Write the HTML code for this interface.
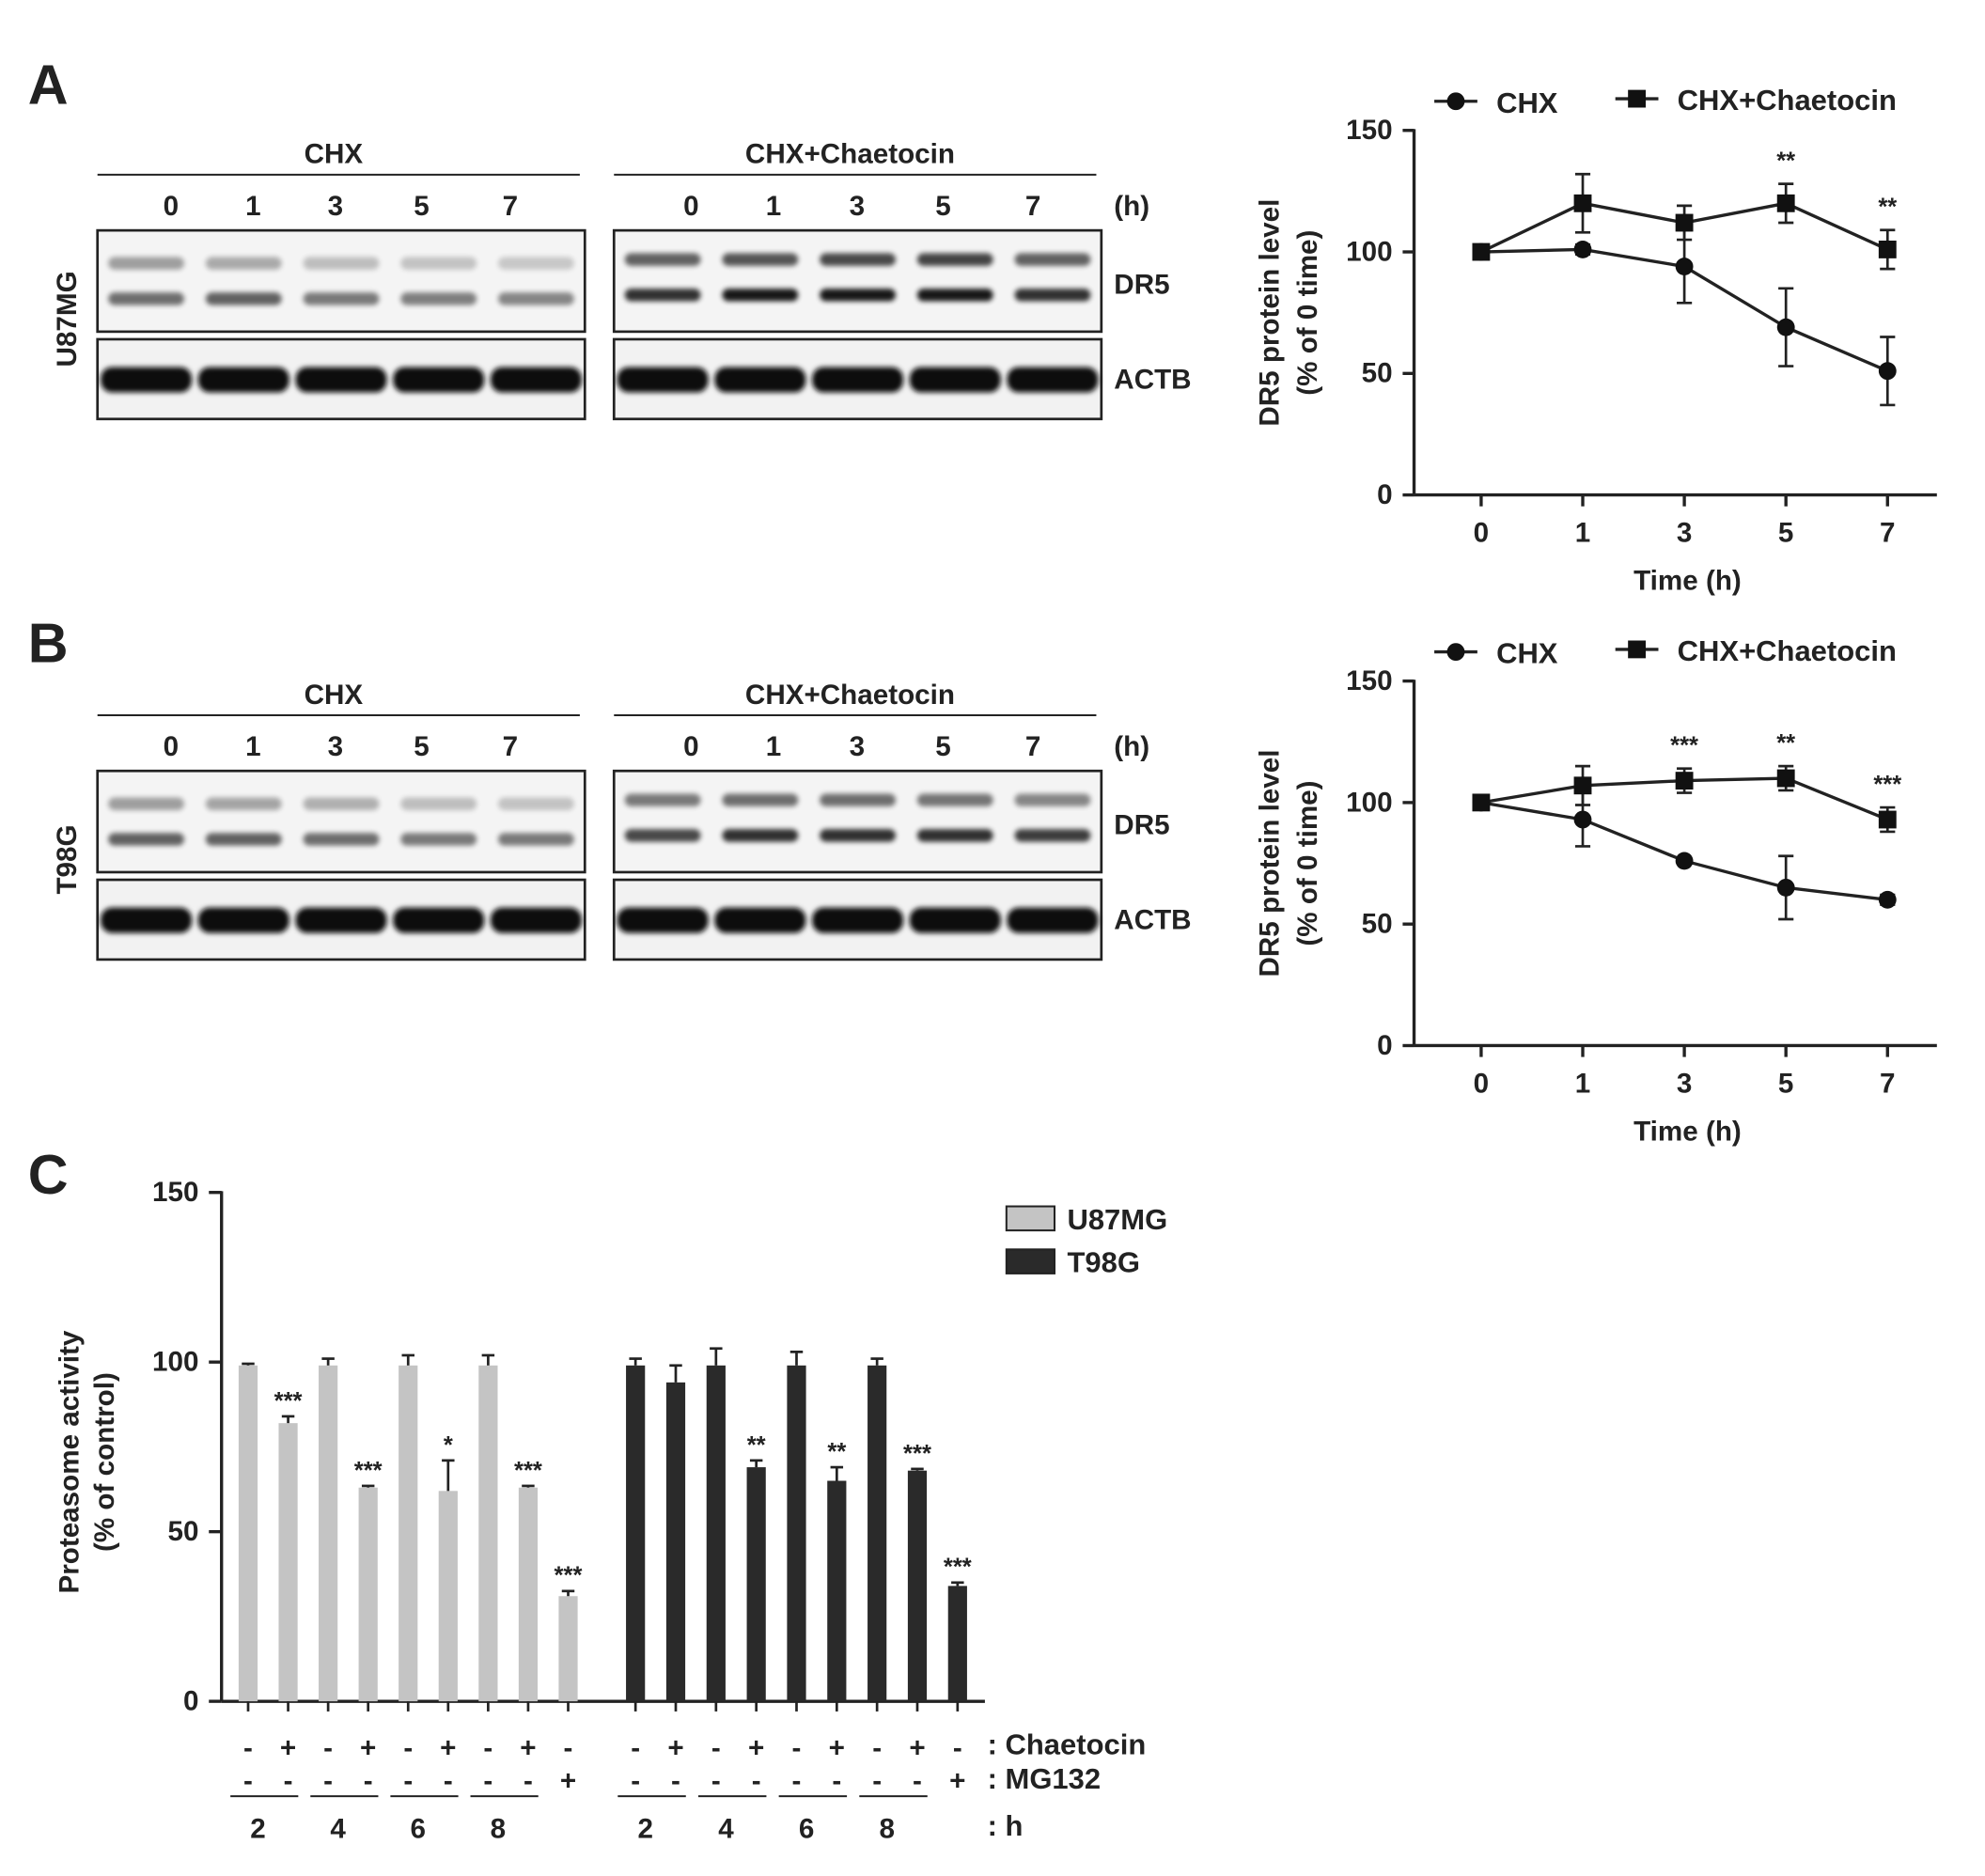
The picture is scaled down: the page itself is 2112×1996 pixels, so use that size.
<!DOCTYPE html>
<html><head><meta charset="utf-8"><style>
html,body{margin:0;padding:0;background:#fff}
svg{display:block}
text{font-family:"Liberation Sans",Arial,sans-serif;font-weight:bold;fill:#222}
</style></head><body>
<svg id="fig" xmlns="http://www.w3.org/2000/svg" width="2112" height="1996" viewBox="0 0 1568 1482" preserveAspectRatio="none">
<defs><filter id="blur" x="-20%" y="-50%" width="140%" height="200%"><feGaussianBlur stdDeviation="2"/></filter></defs>
<g id="root"></g>
</svg>
<script>
// ---- Data ----
const timeCats = [0, 1, 3, 5, 7];
const aChx = [100, 101, 94, 69, 51];
const aChxErr = [0, 2, 15, 16, 14];
const aChae = [100, 120, 112, 120, 101];
const aChaeErr = [0, 12, 7, 8, 8];
const aStars = ["", "", "", "**", "**"];
const bChx = [100, 93, 76, 65, 60];
const bChxErr = [0, 11, 1, 13, 2];
const bChae = [100, 107, 109, 110, 93];
const bChaeErr = [0, 8, 5, 5, 5];
const bStars = ["", "", "***", "**", "***"];
const yTicks = [0, 50, 100, 150];
const cU87 = [99, 82, 99, 63, 99, 62, 99, 63, 31];
const cU87Err = [0.5, 2, 2, 0.5, 3, 9, 3, 0.5, 1.5];
const cU87Stars = ["", "***", "", "***", "", "*", "", "***", "***"];
const cT98 = [99, 94, 99, 69, 99, 65, 99, 68, 34];
const cT98Err = [2, 5, 5, 2, 4, 4, 2, 0.5, 1];
const cT98Stars = ["", "", "", "**", "", "**", "", "***", "***"];
const chaeSigns = ["-", "+", "-", "+", "-", "+", "-", "+", "-"];
const mgSigns = ["-", "-", "-", "-", "-", "-", "-", "-", "+"];
const hourLabels = ["2", "4", "6", "8"];

const NS = "http://www.w3.org/2000/svg";
const root = document.getElementById("root");
function el(tag, attrs, parent, txt) {
  const e = document.createElementNS(NS, tag);
  for (const k in attrs) e.setAttribute(k, attrs[k]);
  if (txt !== undefined) e.textContent = txt;
  (parent || root).appendChild(e);
  return e;
}
function line(x1, y1, x2, y2, w, p) { return el("line", {x1, y1, x2, y2, stroke: "#222", "stroke-width": w || 2}, p); }

[["A", 38, 82], ["B", 38, 523], ["C", 38, 943]].forEach(([t, x, y]) => {
  const e = el("text", {x, y, "font-size": 44, "text-anchor": "middle"}, root, t);
  
  
});

// ---- Blots ----
function blots(dy, cell, dr5Int) {
  const g = el("g", {transform: "translate(0," + dy + ")"});
  
  
  const groups = [{x0: 77, x1: 462, title: "CHX", lanes: [135, 200, 265, 333, 403]},
                  {x0: 485, x1: 870, title: "CHX+Chaetocin", lanes: [546, 611, 677, 745, 816]}];
  groups.forEach((gr, gi) => {
    el("text", {x: (gr.x0 + gr.x1) / 2 - 6, y: 129, "font-size": 22, "text-anchor": "middle"}, g, gr.title);
    line(gr.x0, 138, gr.x1 - 4, 138, 1.5, g);
    gr.lanes.forEach((lx, i) => el("text", {x: lx, y: 170, "font-size": 22, "text-anchor": "middle"}, g, timeCats[i]));
    el("rect", {x: gr.x0, y: 182, width: gr.x1 - gr.x0, height: 80, fill: "#f4f4f4", stroke: "#222", "stroke-width": 2}, g);
    el("rect", {x: gr.x0, y: 268, width: gr.x1 - gr.x0, height: 63, fill: "#f2f2f2", stroke: "#222", "stroke-width": 2}, g);
    const step = (gr.x1 - gr.x0) / 5;
    for (let i = 0; i < 5; i++) {
      const cx = gr.x0 + step * (i + 0.5);
      const ints = dr5Int[gi][i];
      el("rect", {x: cx - 30, y: 203 - (gi ? 3 : 0), width: 60, height: 10, rx: 5, fill: "#000", opacity: ints[0], filter: "url(#blur)"}, g);
      el("rect", {x: cx - 30, y: 231 - (gi ? 3 : 0), width: 60, height: 10, rx: 5, fill: "#000", opacity: ints[1], filter: "url(#blur)"}, g);
      el("rect", {x: cx - 36, y: 290, width: 72, height: 20, rx: 9, fill: "#111", filter: "url(#blur)"}, g);
    }
  });
  el("text", {x: 880, y: 170, "font-size": 22}, g, "(h)");
  el("text", {x: 880, y: 232, "font-size": 22}, g, "DR5");
  el("text", {x: 880, y: 307, "font-size": 22}, g, "ACTB");
  el("text", {x: 60, y: 252, "font-size": 22, "text-anchor": "middle", transform: "rotate(-90 60 252)"}, g, cell);
}
blots(0, "U87MG", [[[0.35,0.55],[0.3,0.6],[0.22,0.5],[0.2,0.48],[0.18,0.45]],[[0.6,0.8],[0.65,0.9],[0.7,0.9],[0.72,0.9],[0.6,0.8]]]);
blots(427, "T98G", [[[0.35,0.6],[0.32,0.6],[0.28,0.55],[0.22,0.5],[0.2,0.5]],[[0.5,0.7],[0.55,0.8],[0.55,0.8],[0.52,0.8],[0.45,0.75]]]);

// ---- Line charts ----
function lineChart(name, dy, chx, chxE, chae, chaeE, stars) {
  const g = el("g", {transform: "translate(0," + dy + ")"});
  
  
  const y0 = 391, y150 = 103;
  const yS = v => y0 - (v / 150) * (y0 - y150);
  const xS = i => 1170 + i * 80.25; // categorical, evenly spaced
  line(1117, y150 - 1, 1117, y0, 2.5, g);
  line(1117, y0, 1530, y0, 2.5, g);
  yTicks.forEach(t => {
    line(1108, yS(t), 1117, yS(t), 2.5, g);
    el("text", {x: 1100, y: yS(t) + 7, "font-size": 22, "text-anchor": "end"}, g, t);
  });
  timeCats.forEach((t, i) => {
    line(xS(i), y0, xS(i), y0 + 9, 2.5, g);
    el("text", {x: xS(i), y: 428, "font-size": 22, "text-anchor": "middle"}, g, t);
  });
  el("text", {x: 1333, y: 466, "font-size": 22, "text-anchor": "middle"}, g, "Time (h)");
  el("text", {x: 1010, y: 247, "font-size": 22, "text-anchor": "middle", transform: "rotate(-90 1010 247)"}, g, "DR5 protein level");
  el("text", {x: 1040, y: 247, "font-size": 22, "text-anchor": "middle", transform: "rotate(-90 1040 247)"}, g, "(% of 0 time)");
  function series(vals, errs, sq, sname) {
    const s = el("g", {}, g);
    
    
    el("polyline", {points: vals.map((v, i) => xS(i) + "," + yS(v)).join(" "), fill: "none", stroke: "#222", "stroke-width": 2.5}, s);
    vals.forEach((v, i) => {
      if (errs[i]) {
        line(xS(i), yS(v - errs[i]), xS(i), yS(v + errs[i]), 2, s);
        line(xS(i) - 6, yS(v + errs[i]), xS(i) + 6, yS(v + errs[i]), 2, s);
        line(xS(i) - 6, yS(v - errs[i]), xS(i) + 6, yS(v - errs[i]), 2, s);
      }
      if (sq) el("rect", {x: xS(i) - 7, y: yS(v) - 7, width: 14, height: 14, fill: "#111"}, s);
      else el("circle", {cx: xS(i), cy: yS(v), r: 7, fill: "#111"}, s);
    });
  }
  series(chx, chxE, false, "series-chx");
  series(chae, chaeE, true, "series-chx-chaetocin");
  stars.forEach((st, i) => { if (st) el("text", {x: xS(i), y: yS(chae[i] + chaeE[i]) - 12, "font-size": 19, "text-anchor": "middle"}, g, st); });
  const lg = el("g", {}, g);
  
  
  line(1133, 80, 1167, 80, 2.5, lg); el("circle", {cx: 1150, cy: 80, r: 7, fill: "#111"}, lg);
  el("text", {x: 1182, y: 89, "font-size": 23}, lg, "CHX");
  line(1276, 78, 1310, 78, 2.5, lg); el("rect", {x: 1286, y: 71, width: 14, height: 14, fill: "#111"}, lg);
  el("text", {x: 1325, y: 87, "font-size": 23}, lg, "CHX+Chaetocin");
}
lineChart("line-chart-a", 0, aChx, aChxErr, aChae, aChaeErr, aStars);
lineChart("line-chart-b", 435, bChx, bChxErr, bChae, bChaeErr, bStars);

// ---- Bar chart C ----
(function () {
  const g = el("g", {});
  
  
  const y0 = 1344, y150 = 942;
  const yS = v => y0 - (v / 150) * (y0 - y150);
  const u87X = i => 196 + i * 31.6;
  const t98X = i => 502 + i * 31.8;
  line(175, y150 - 1, 175, y0, 2.5, g);
  line(175, y0, 778, y0, 2.5, g);
  yTicks.forEach(t => {
    line(165, yS(t), 175, yS(t), 2.5, g);
    el("text", {x: 157, y: yS(t) + 7, "font-size": 22, "text-anchor": "end"}, g, t);
  });
  el("text", {x: 62, y: 1155, "font-size": 22, "text-anchor": "middle", transform: "rotate(-90 62 1155)"}, g, "Proteasome activity");
  el("text", {x: 90, y: 1155, "font-size": 22, "text-anchor": "middle", transform: "rotate(-90 90 1155)"}, g, "(% of control)");
  function bars(vals, errs, stars, xf, color, prefix) {
    vals.forEach((v, i) => {
      const x = xf(i);
      const b = el("rect", {x: x - 7.5, y: yS(v), width: 15, height: y0 - yS(v), fill: color}, g);
      
      
      const top = yS(v + errs[i]);
      line(x, yS(v), x, top, 2, g);
      line(x - 5, top, x + 5, top, 2, g);
      if (stars[i]) el("text", {x, y: top - 6, "font-size": 19, "text-anchor": "middle"}, g, stars[i]);
    });
  }
  bars(cU87, cU87Err, cU87Stars, u87X, "#c4c4c4", "u87mg");
  bars(cT98, cT98Err, cT98Stars, t98X, "#2a2a2a", "t98g");
  [u87X, t98X].forEach(xf => {
    for (let i = 0; i < 9; i++) {
      line(xf(i), y0, xf(i), y0 + 8, 2, g);
      el("text", {x: xf(i), y: 1388, "font-size": 22, "text-anchor": "middle"}, g, chaeSigns[i]);
      el("text", {x: xf(i), y: 1414, "font-size": 22, "text-anchor": "middle"}, g, mgSigns[i]);
    }
    hourLabels.forEach((h, k) => {
      const xa = xf(2 * k), xb = xf(2 * k + 1);
      line(xa - 14, 1419, xb + 8, 1419, 1.5, g);
      el("text", {x: (xa + xb) / 2 - 8, y: 1452, "font-size": 22, "text-anchor": "middle"}, g, h);
    });
  });
  el("text", {x: 780, y: 1386, "font-size": 23}, g, ": Chaetocin");
  el("text", {x: 780, y: 1413, "font-size": 23}, g, ": MG132");
  el("text", {x: 780, y: 1450, "font-size": 23}, g, ": h");
  const lg = el("g", {}, g);
  
  
  el("rect", {x: 795, y: 953, width: 38, height: 19, fill: "#c4c4c4", stroke: "#222", "stroke-width": 1.5}, lg);
  el("text", {x: 843, y: 971, "font-size": 23}, lg, "U87MG");
  el("rect", {x: 795, y: 987, width: 38, height: 19, fill: "#2a2a2a", stroke: "#222", "stroke-width": 1.5}, lg);
  el("text", {x: 843, y: 1005, "font-size": 23}, lg, "T98G");
})();
</script>
</body></html>
